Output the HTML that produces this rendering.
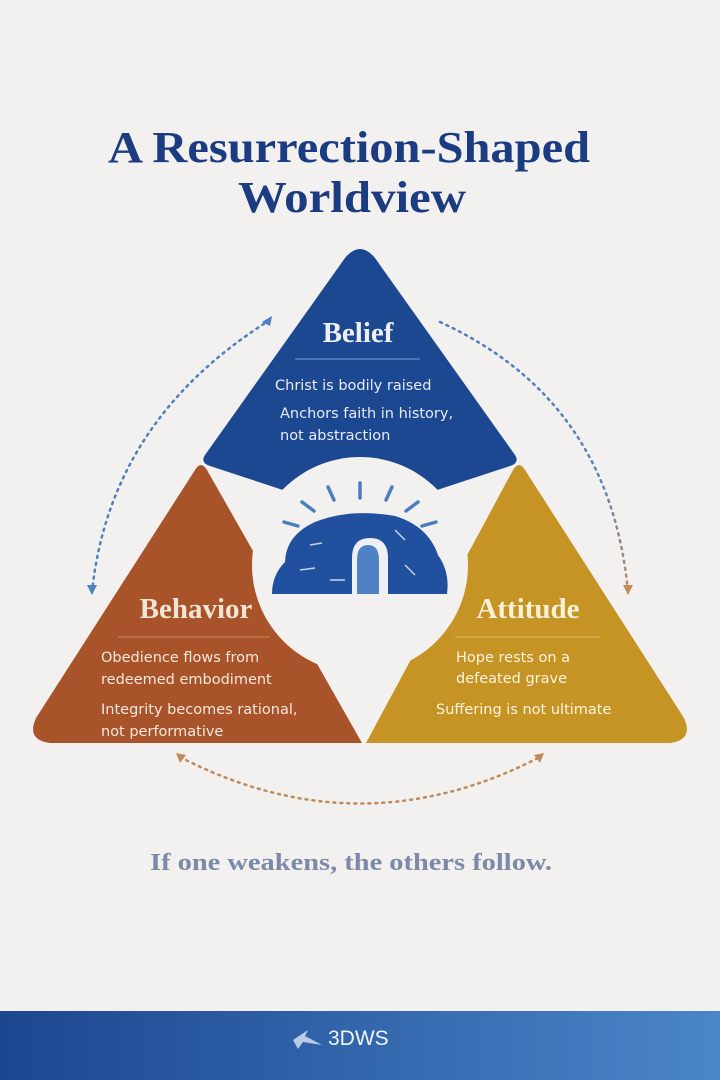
<!DOCTYPE html>
<html><head><meta charset="utf-8"><style>
html,body{margin:0;padding:0;width:720px;height:1080px;overflow:hidden;background:#f3f1ef}
svg{display:block}
</style></head><body>
<svg width="720" height="1080" viewBox="0 0 720 1080" xmlns="http://www.w3.org/2000/svg">
<defs>
<linearGradient id="foot" x1="0" x2="1" y1="0" y2="0"><stop offset="0" stop-color="#1b4690"/><stop offset="1" stop-color="#4a86c8"/></linearGradient>
<linearGradient id="rdash" x1="0" y1="0" x2="0" y2="1"><stop offset="0" stop-color="#4f7fc0"/><stop offset="0.6" stop-color="#5d84bb"/><stop offset="1" stop-color="#c08a5a"/></linearGradient>
</defs>
<rect width="720" height="1080" fill="#f3f1ef"/>
<text x="349" y="162" text-anchor="middle" font-family="Liberation Serif,serif" font-weight="bold" font-size="44" fill="#1b3c80" textLength="482" lengthAdjust="spacingAndGlyphs">A Resurrection-Shaped</text>
<text x="352" y="212" text-anchor="middle" font-family="Liberation Serif,serif" font-weight="bold" font-size="44" fill="#1b3c80" textLength="228" lengthAdjust="spacingAndGlyphs">Worldview</text>

<path d="M270 320 Q110 420 92 592" fill="none" stroke="#4f7fc0" stroke-width="2.5" stroke-dasharray="2 5" stroke-linecap="round"/>
<path d="M440 322 Q610 400 628 592" fill="none" stroke="url(#rdash)" stroke-width="2.5" stroke-dasharray="2 5" stroke-linecap="round"/>
<path d="M180 757 Q360 850 540 757" fill="none" stroke="#c08a5a" stroke-width="2.5" stroke-dasharray="2 5" stroke-linecap="round"/>
<path d="M262 322 l10 -6 l-2 10z" fill="#4f7fc0"/>
<path d="M87 585 l5 10 l5 -10z" fill="#4f7fc0"/>
<path d="M623 585 l5 10 l5 -10z" fill="#c08a5a"/>
<path d="M176 753 l4 10 l6 -8z" fill="#c08a5a"/>
<path d="M544 753 l-4 10 l-6 -8z" fill="#c08a5a"/>

<path d="M345 258 Q360 240 375 258 L515 455 Q520 463 510 466 L437 490 L283 490 L210 466 Q200 463 205 455 Z" fill="#1c4791"/>
<path d="M195 470 Q201 460 207 470 L362 743 L50 743 Q26 740 36 718 Z" fill="#a9532a"/>
<path d="M513 470 Q519 460 525 470 L684 718 Q694 740 670 743 L366 743 Z" fill="#c59424"/>
<circle cx="360" cy="565" r="108" fill="#f3f1ef"/>
<path d="M362 672 L362 745 L366 745 L366 672Z" fill="#f3f1ef"/>

<g stroke="#4a7ec0" stroke-width="3.5" stroke-linecap="round">
<line x1="360" y1="483" x2="360" y2="498"/>
<line x1="328" y1="487" x2="334" y2="500"/>
<line x1="392" y1="487" x2="386" y2="500"/>
<line x1="302" y1="502" x2="314" y2="511"/>
<line x1="418" y1="502" x2="406" y2="511"/>
<line x1="284" y1="522" x2="298" y2="526"/>
<line x1="436" y1="522" x2="422" y2="526"/>
</g>
<path d="M272 594 Q272 575 285 562 Q286 535 315 522 Q350 508 395 516 Q428 526 438 555 Q450 572 447 594 Z" fill="#20509e"/>
<path d="M352 594 L352 558 Q352 538 370 538 Q388 538 388 558 L388 594 Z" fill="#eef0f4"/>
<path d="M357 594 L357 560 Q357 545 368 545 Q379 545 379 560 L379 594 Z" fill="#4f82c4"/>
<g stroke="#c7d5ea" stroke-width="1.5"><line x1="310" y1="545" x2="322" y2="543"/><line x1="300" y1="570" x2="315" y2="568"/><line x1="330" y1="580" x2="345" y2="580"/><line x1="405" y1="565" x2="415" y2="575"/><line x1="395" y1="530" x2="405" y2="540"/></g>

<text x="358" y="342" text-anchor="middle" font-family="Liberation Serif,serif" font-weight="bold" font-size="29" fill="#eef0f6">Belief</text>
<line x1="295" y1="359" x2="420" y2="359" stroke="#7f9ccf" stroke-width="1"/>
<g font-family="DejaVu Sans,sans-serif" font-size="14.5" fill="#e8ecf5">
<text x="275" y="390">Christ is bodily raised</text>
<text x="280" y="418">Anchors faith in history,</text>
<text x="280" y="440">not abstraction</text>
</g>
<text x="196" y="618" text-anchor="middle" font-family="Liberation Serif,serif" font-weight="bold" font-size="29" fill="#f3e5d3">Behavior</text>
<line x1="118" y1="637" x2="270" y2="637" stroke="#c98a62" stroke-width="1"/>
<g font-family="DejaVu Sans,sans-serif" font-size="14.5" fill="#f5e8dc">
<text x="101" y="662">Obedience flows from</text>
<text x="101" y="684">redeemed embodiment</text>
<text x="101" y="714">Integrity becomes rational,</text>
<text x="101" y="736">not performative</text>
</g>
<text x="528" y="618" text-anchor="middle" font-family="Liberation Serif,serif" font-weight="bold" font-size="29" fill="#fbf1d8">Attitude</text>
<line x1="455" y1="637" x2="600" y2="637" stroke="#ddb866" stroke-width="1"/>
<g font-family="DejaVu Sans,sans-serif" font-size="14.5" fill="#fdf4df">
<text x="456" y="662">Hope rests on a</text>
<text x="456" y="683">defeated grave</text>
<text x="436" y="714">Suffering is not ultimate</text>
</g>

<text x="351" y="870" text-anchor="middle" font-family="Liberation Serif,serif" font-weight="bold" font-size="24" fill="#7c89a9" textLength="402" lengthAdjust="spacingAndGlyphs">If one weakens, the others follow.</text>

<rect x="0" y="1011" width="720" height="69" fill="url(#foot)"/>
<path d="M293 1040 L308 1030 L305 1036 L322 1045 L303 1042 L298 1049 Z" fill="#b9cbe6"/>
<text x="328" y="1045" font-family="Liberation Sans,sans-serif" font-size="21" fill="#f2f5fb">3DWS</text>
</svg>
</body></html>
